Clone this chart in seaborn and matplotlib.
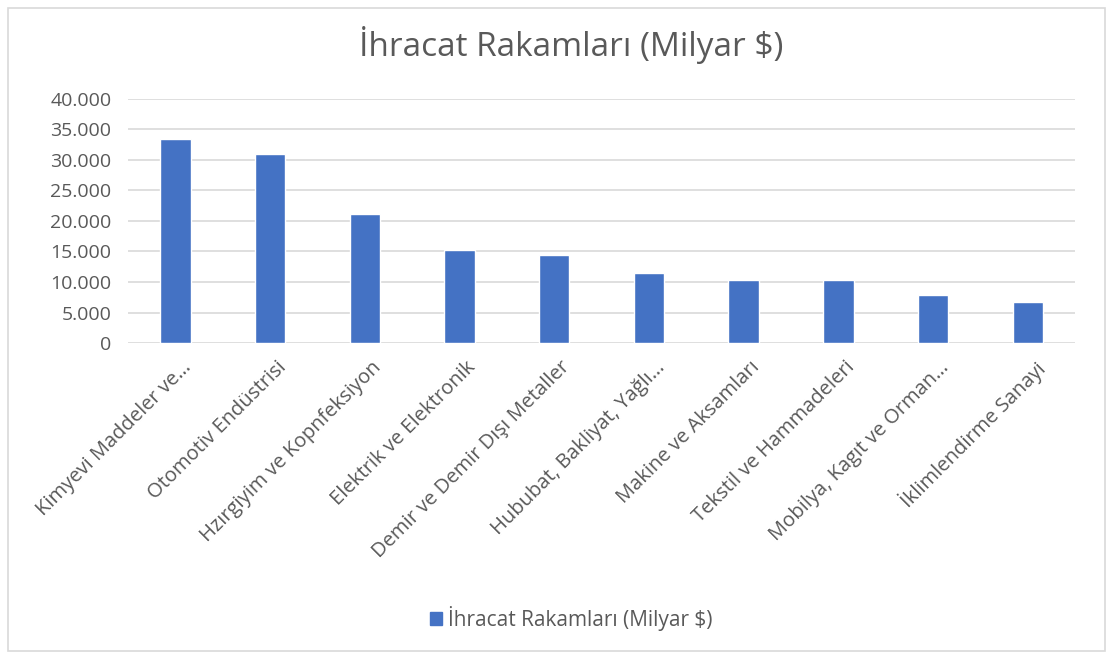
import matplotlib
matplotlib.use("Agg")
import matplotlib.pyplot as plt
import matplotlib.transforms as mtransforms
import seaborn as sns
import pandas as pd
from matplotlib.ticker import FuncFormatter
from matplotlib.patches import Rectangle, Patch

# Data
categories = [
    "Kimyevi Maddeler ve…",
    "Otomotiv Endüstrisi",
    "Hzırgiyim ve Kopnfeksiyon",
    "Elektrik ve Elektronik",
    "Demir ve Demir Dışı Metaller",
    "Hububat, Bakliyat, Yağlı…",
    "Makine ve Aksamları",
    "Tekstil ve Hammadeleri",
    "Mobilya, Kagıt ve Orman…",
    "İklimlendirme Sanayi",
]
values = [33500, 31000, 21200, 15200, 14400, 11500, 10400, 10400, 7950, 6750]
series_name = "İhracat Rakamları (Milyar $)"
yticks = [0, 5000, 10000, 15000, 20000, 25000, 30000, 35000, 40000]

BLUE = "#4472C4"
TEXT = "#595959"
GRID = "#D9D9D9"

sns.set_theme(style="white")
plt.rcParams["font.family"] = ["Open Sans", "DejaVu Sans"]

df = pd.DataFrame({"category": categories, "value": values})

fig = plt.figure(figsize=(11.13, 6.59), dpi=100)
ax = fig.add_axes([0.115, 0.4795, 0.851, 0.3703])

sns.barplot(data=df, x="category", y="value", color=BLUE, width=0.32,
            saturation=1, ax=ax, zorder=3)

ax.set_ylim(0, 40000)
ax.set_yticks(yticks)
ax.yaxis.set_major_formatter(FuncFormatter(lambda v, p: f"{int(v):,}".replace(",", ".")))
ax.grid(axis="y", color=GRID, linewidth=1.2, zorder=0)
ax.set_axisbelow(True)
for s in ax.spines.values():
    s.set_visible(False)
ax.tick_params(axis="both", length=0, colors=TEXT, labelsize=14)
ax.tick_params(axis="y", pad=12)
ax.tick_params(axis="x", pad=6, labelsize=14.5)
ax.set_xlabel("")
ax.set_ylabel("")
ax.set_xlim(-0.5, len(categories) - 0.5)

# nudge rotated labels a little right/down like the original
shift = mtransforms.ScaledTranslation(6 / 100, -6 / 100, fig.dpi_scale_trans)
for lbl in ax.get_xticklabels():
    lbl.set_rotation(45)
    lbl.set_ha("right")
    lbl.set_va("top")
    lbl.set_rotation_mode("anchor")
    lbl.set_transform(lbl.get_transform() + shift)

fig.text(0.513, 1 - 45 / 659, series_name, ha="center", va="center",
         fontsize=24, color=TEXT)

handles = [Patch(facecolor=BLUE, edgecolor=BLUE, label=series_name)]
fig.legend(handles=handles, loc="center", bbox_to_anchor=(0.513, 0.062), frameon=False,
           fontsize=15, labelcolor=TEXT, handlelength=0.6, handleheight=0.6,
           handletextpad=0.25)

fig.patches.append(Rectangle((0.007, 0.012), 0.986, 0.976, transform=fig.transFigure,
                             fill=False, edgecolor=GRID, linewidth=1.2))

fig.savefig("out.png", dpi=100)
